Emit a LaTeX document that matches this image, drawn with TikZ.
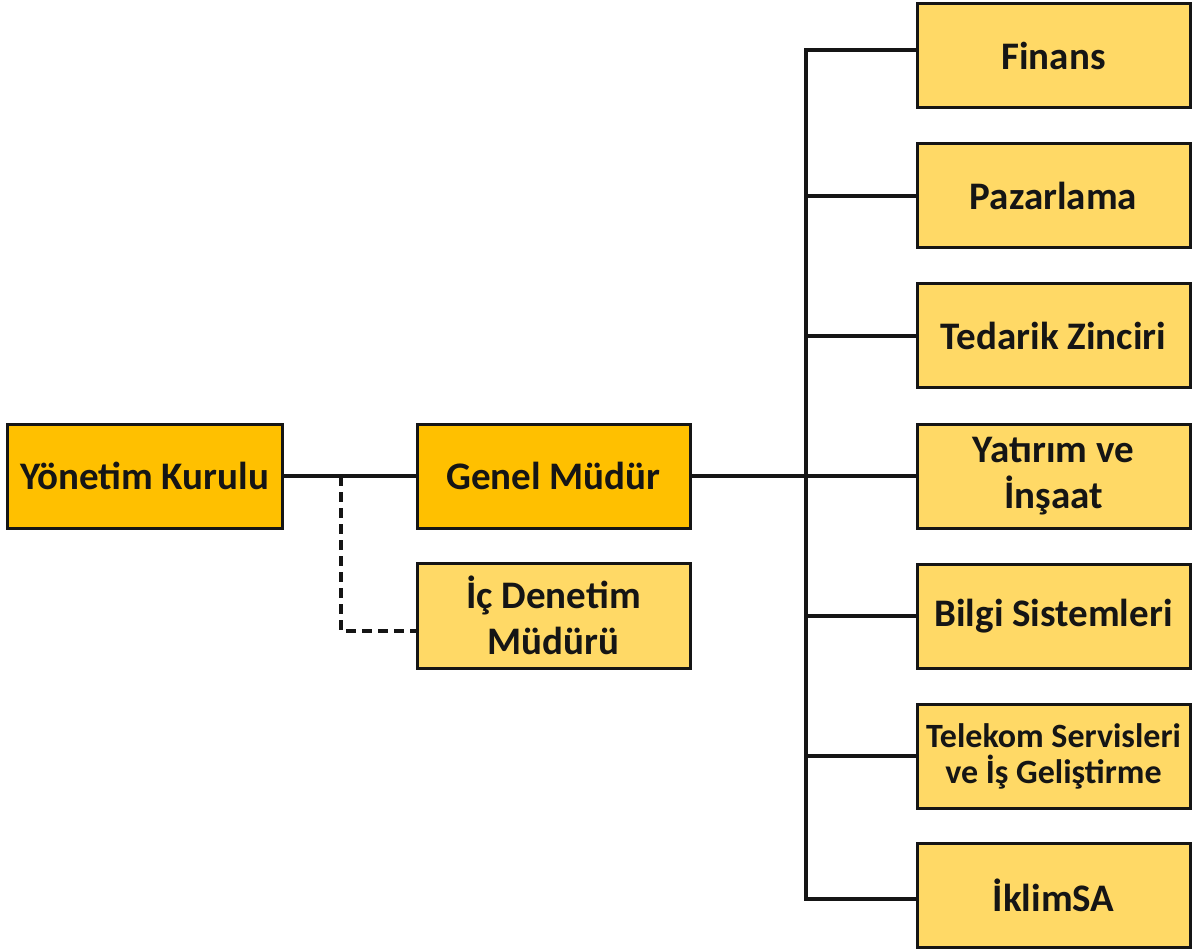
\documentclass[tikz,border=0pt]{standalone}
\usepackage{fontspec}
\setmainfont{Carlito}
\definecolor{darkfill}{HTML}{FFC000}
\definecolor{lightfill}{HTML}{FFD966}
\definecolor{ink}{HTML}{151515}
\begin{document}
\begin{tikzpicture}[x=1pt,y=-1pt,
  box/.style={draw=ink, line width=3pt, minimum width=273pt, minimum height=104pt,
    inner sep=0pt, align=center, text=ink, font=\fontsize{39}{46}\selectfont\bfseries},
  topbox/.style={box, fill=darkfill},
  subbox/.style={box, fill=lightfill},
  link/.style={draw=ink, line width=4pt},
  dashlink/.style={draw=ink, line width=3.5pt, dash pattern=on 10pt off 6pt}]
\useasboundingbox (0,0) rectangle (1194,949);
\node[topbox, minimum width=275pt] (yk) at (144.5,476) {Yönetim Kurulu};
\node[topbox] (gm) at (553.5,476) {Genel Müdür};
\node[subbox, minimum height=105pt] (ic) at (553.5,615.5) {İç Denetim\\Müdürü};
\node[subbox] (fin) at (1053.5,56) {Finans};
\node[subbox] (paz) at (1053.5,196) {Pazarlama};
\node[subbox] (ted) at (1053.5,336) {Tedarik Zinciri};
\node[subbox] (yat) at (1053.5,476) {Yatırım ve\\İnşaat};
\node[subbox] (bil) at (1053.5,616) {Bilgi Sistemleri};
\node[subbox, font=\fontsize{34}{36}\selectfont\bfseries] (tel) at (1053.5,756) {Telekom Servisleri\\ve İş Geliştirme};
\node[subbox] (ikl) at (1053.5,895) {İklimSA};
% board to general manager
\draw[link] (yk.east) -- (gm.west);
% dashed link to internal audit
\coordinate (dtop) at (341,476);
\coordinate (dbot) at (341,631);
\draw[dashlink] (dtop) -- (dbot) -- (dbot -| ic.west);
% bus
\coordinate (bustop) at (806,50);
\coordinate (busbot) at (806,899);
\draw[link, line cap=rect] (bustop) -- (busbot);
\draw[link] (gm.east) -- (gm.east -| bustop);
\draw[link] (bustop) -- (bustop -| fin.west);
\draw[link] (paz.west -| bustop) -- (paz.west);
\draw[link] (ted.west -| bustop) -- (ted.west);
\draw[link] (yat.west -| bustop) -- (yat.west);
\draw[link] (bil.west -| bustop) -- (bil.west);
\draw[link] (tel.west -| bustop) -- (tel.west);
\draw[link] (busbot) -- (busbot -| ikl.west);
\end{tikzpicture}
\end{document}
